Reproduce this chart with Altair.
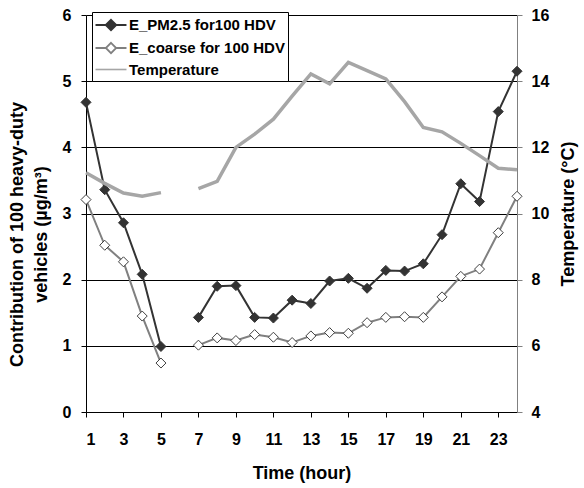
import altair as alt
import pandas as pd

# Hourly contribution of 100 heavy-duty vehicles and air temperature
hours = list(range(1, 25))
pm25 = [4.68, 3.36, 2.86, 2.08, 0.99, None, 1.43, 1.90, 1.91, 1.43, 1.42, 1.69,
        1.64, 1.98, 2.02, 1.87, 2.14, 2.13, 2.24, 2.68, 3.45, 3.18, 4.54, 5.15]
coarse = [3.21, 2.52, 2.27, 1.45, 0.74, None, 1.01, 1.12, 1.08, 1.17, 1.13, 1.05,
          1.15, 1.20, 1.19, 1.35, 1.43, 1.44, 1.43, 1.74, 2.05, 2.16, 2.71, 3.26]
temperature = [11.23, 10.91, 10.62, 10.52, 10.63, None, 10.75, 10.97, 12.0, 12.4,
               12.85, 13.55, 14.22, 13.92, 14.57, 14.32, 14.07, 13.38, 12.6, 12.47,
               12.12, 11.75, 11.37, 11.32]

series_names = ["E_PM2.5 for100 HDV", "E_coarse for 100 HDV", "Temperature"]
x_ticks = list(range(1, 24, 2))
left_ticks = [0, 1, 2, 3, 4, 5, 6]
right_ticks = [4, 6, 8, 10, 12, 14, 16]

FONT = "Liberation Sans"
PM_COLOR = "#333333"
COARSE_COLOR = "#808080"
COARSE_EDGE = "#404040"
TEMP_COLOR = "#a6a6a6"

rows = []
for name, values in zip(series_names, [pm25, coarse, temperature]):
    for h, v in zip(hours, values):
        if v is None:
            continue
        # hour 6 is missing, so each series is split into two runs
        rows.append({"series": name, "hour": h, "value": v, "run": 0 if h < 6 else 1})
df = pd.DataFrame(rows)

x_enc = alt.X(
    "hour:Q",
    scale=alt.Scale(domain=[1, 24], nice=False, zero=False),
    axis=alt.Axis(
        title="Time (hour)", values=x_ticks, grid=False, tickSize=5, labelPadding=14,
        labelOverlap=False, titlePadding=17, titleFontSize=18,
        domainColor="black", tickColor="black",
    ),
)

y_left = alt.Y(
    "value:Q",
    scale=alt.Scale(domain=[0, 6], nice=False),
    axis=alt.Axis(
        title=["Contribution of 100 heavy-duty", "vehicles (µg/m³)"],
        orient="left", values=left_ticks, format="d", grid=True, gridColor="black",
        gridWidth=1, tickSize=5, labelPadding=10, titlePadding=12, titleFontSize=18,
        titleLineHeight=24, titleY=219, domainColor="black", tickColor="black",
    ),
)

y_right = alt.Y(
    "value:Q",
    scale=alt.Scale(domain=[4, 16], nice=False, zero=False),
    axis=alt.Axis(
        title="Temperature (°C)", orient="right", values=right_ticks, format="d",
        grid=False, tickSize=5, labelPadding=9, titlePadding=11, titleFontSize=18,
        titleAngle=270, titleBaseline="top",
        domainColor="#808080", tickColor="#808080",
    ),
)

base = alt.Chart(df)


def series_line(name, color, width):
    return base.transform_filter(alt.datum.series == name).mark_line(
        color=color, strokeWidth=width
    )


def series_points(name, fill, edge):
    return base.transform_filter(alt.datum.series == name).mark_point(
        shape="diamond", size=100, filled=True, fill=fill, stroke=edge,
        strokeWidth=1, opacity=1,
    )


line_enc = dict(x=x_enc, y=y_left, detail="run:N", order="hour:Q")
pt_enc = dict(x=x_enc, y=y_left)

pm_line = series_line(series_names[0], PM_COLOR, 2).encode(**line_enc)
coarse_line = series_line(series_names[1], COARSE_COLOR, 2).encode(**line_enc)
pm_pts = series_points(series_names[0], PM_COLOR, PM_COLOR).encode(**pt_enc)
coarse_pts = series_points(series_names[1], "white", COARSE_EDGE).encode(**pt_enc)

# legend glyphs: a short line with a diamond in the middle, or a plain line
diamond_line = "M-1.8,0H-0.6M0.6,0H1.8M0,-0.6L0.6,0L0,0.6L-0.6,0Z"
plain_line = "M-1.8,0H1.8"

legend = alt.Legend(
    title=None,
    orient="none",
    legendX=6,
    legendY=-3,
    fillColor="white",
    strokeColor="black",
    padding=3,
    labelFont=FONT,
    labelFontSize=15,
    labelFontWeight="bold",
    labelColor="black",
    labelOffset=8,
    symbolOffset=6,
    symbolSize=296,
    rowPadding=3,
)

# carries the legend only; the filter leaves it no rows to draw
legend_keys = base.transform_filter("datum.hour < 0").mark_point(filled=True, opacity=1).encode(
    x=x_enc,
    y=y_left,
    shape=alt.Shape("series:N", scale=alt.Scale(domain=series_names,
                    range=[diamond_line, diamond_line, plain_line]), legend=legend),
    fill=alt.Fill("series:N", scale=alt.Scale(domain=series_names,
                  range=[PM_COLOR, "white", "white"]), legend=legend),
    stroke=alt.Stroke("series:N", scale=alt.Scale(domain=series_names,
                      range=[PM_COLOR, COARSE_COLOR, TEMP_COLOR]), legend=legend),
    strokeWidth=alt.StrokeWidth("series:N", scale=alt.Scale(domain=series_names,
                                range=[2, 1.6, 3.5]), legend=legend),
)

left_layer = alt.layer(pm_line, coarse_line, coarse_pts, pm_pts, legend_keys)

temp_line = series_line(series_names[2], TEMP_COLOR, 3.5).encode(
    x=x_enc, y=y_right, detail="run:N", order="hour:Q"
)

chart = (
    alt.layer(left_layer, temp_line)
    .resolve_scale(y="independent")
    .properties(
        width=431,
        height=397,
        autosize=alt.AutoSizeParams(type="none"),
        padding={"left": 86, "top": 15, "right": 67, "bottom": 76},
        background="white",
    )
    .configure_view(stroke=None)
    .configure_axis(
        labelFont=FONT, labelFontSize=16, labelFontWeight="bold", labelColor="black",
        titleFont=FONT, titleFontWeight="bold", titleColor="black",
    )
)

chart.save("out.html", embed_options={"renderer": "svg", "actions": False})
